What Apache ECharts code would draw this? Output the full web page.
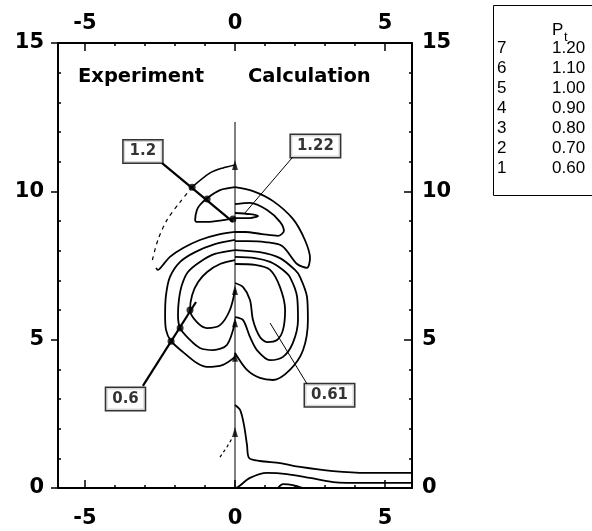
<!DOCTYPE html>
<html>
<head>
<meta charset="utf-8">
<script src="https://cdn.jsdelivr.net/npm/echarts@6/dist/echarts.min.js"></script>
<style>
  html, body { margin: 0; padding: 0; background: #fff; }
  #chart { width: 592px; height: 531px; }
</style>
</head>
<body>
<div id="chart"></div>
<script>
// axis ticks
const xMajor = [-5, 0, 5]
const xMinor = [-5, -4, -3, -2, -1, 0, 1, 2, 3, 4, 5]
const yMajor = [0, 5, 10, 15]
const yMinor = [1, 2, 3, 4, 6, 7, 8, 9, 11, 12, 13, 14]

// legend table
const levelIds = ['7', '6', '5', '4', '3', '2', '1']
const levelVals = ['1.20', '1.10', '1.00', '0.90', '0.80', '0.70', '0.60']

// calculation side (x > 0), [x, y]
const calcOuterLobe = [[0, 10.14], [0.6, 10.01], [1.27, 9.67], [1.93, 9.07], [2.33, 8.36], [2.5, 7.75], [2.4, 7.42], [2.07, 7.55], [1.57, 8.16], [1.0, 8.29], [0.43, 8.32], [0, 8.32]]
const calcInnerLobe = [[0, 9.57], [0.5, 9.61], [1.07, 9.37], [1.5, 8.97], [1.63, 8.66], [1.43, 8.5], [0.9, 8.56], [0.33, 8.63], [0, 8.63]]
const calcTongue = [[0, 9.27], [0.5, 9.23], [0.77, 9.17], [0.5, 9.1], [0, 9.1]]
const calcRingC = [[0, 8.02], [0.83, 7.95], [1.5, 7.75], [2.0, 7.35], [2.17, 7.11], [2.4, 6.44], [2.43, 5.66], [2.27, 4.65], [1.83, 3.98], [1.27, 3.64], [0.83, 3.71], [0.4, 3.98], [0, 4.55]]
const calcRingB = [[0, 7.79], [0.67, 7.75], [1.17, 7.62], [1.6, 7.35], [1.83, 7.11], [2.07, 6.44], [2.1, 5.66], [1.93, 4.89], [1.6, 4.42], [1.17, 4.31], [0.73, 4.65], [0.5, 5.09], [0.27, 5.66], [0, 5.76]]
const calcRingA = [[0, 7.55], [0.67, 7.52], [1.17, 7.35], [1.5, 6.77], [1.67, 6.0], [1.6, 5.33], [1.4, 4.99], [1.07, 4.92], [0.83, 5.09], [0.6, 5.66], [0.5, 6.34], [0.27, 6.77], [0, 6.91]]
const calcWallD = [[0, 2.8], [0.17, 2.63], [0.3, 2.12], [0.4, 1.45], [0.47, 1.01], [0.83, 0.91], [1.5, 0.84], [2.17, 0.71], [3.27, 0.57], [4.4, 0.51], [5.9, 0.51]]
const calcWallE = [[0, 0], [0.1, 0.03], [0.5, 0.34], [1.07, 0.51], [1.73, 0.47], [2.5, 0.34], [3.27, 0.2], [4.4, 0.17], [5.9, 0.17]]
const calcBump = [[1.43, 0], [1.6, 0.13], [1.93, 0.1], [2.27, 0]]

// experiment side (x < 0)
const expArcSolid = [[0, 10.89], [-0.4, 10.79], [-0.83, 10.62], [-1.43, 10.14]]
const expArcDashed = [[-1.43, 10.14], [-1.83, 9.64], [-2.27, 9.03], [-2.57, 8.36], [-2.77, 7.62]]
const expLoop = [[0, 10.14], [-0.5, 10.04], [-0.93, 9.77], [-1.17, 9.54], [-1.27, 9.37], [-1.33, 9.03], [-1.27, 8.97], [-0.93, 8.97], [-0.4, 9.03], [0, 9.1]]
const expHook = [[0, 8.63], [-0.6, 8.53], [-1.17, 8.36], [-1.73, 8.09], [-2.17, 7.79], [-2.4, 7.52], [-2.57, 7.35], [-2.63, 7.42]]
const expRing1 = [[0, 8.36], [-0.67, 8.22], [-1.33, 7.95], [-1.83, 7.62], [-2.17, 7.11], [-2.3, 6.5], [-2.33, 5.83], [-2.3, 5.33], [-2.13, 4.95], [-1.73, 4.58], [-1.27, 4.21], [-0.93, 4.08], [-0.4, 4.15], [0, 4.42]]
const expRing2 = [[0, 8.02], [-0.67, 7.89], [-1.17, 7.62], [-1.57, 7.28], [-1.77, 6.84], [-1.87, 6.34], [-1.9, 5.83], [-1.83, 5.39], [-1.5, 4.99], [-1.17, 4.72], [-0.73, 4.65], [-0.27, 4.82], [0, 5.59]]
const expRing3 = [[0, 7.68], [-0.5, 7.55], [-0.93, 7.28], [-1.23, 6.94], [-1.43, 6.5], [-1.5, 6.0], [-1.27, 5.59], [-0.93, 5.39], [-0.5, 5.49], [-0.17, 6.0], [0, 6.67]]
const expBase = [[-0.5, 1.04], [-0.27, 1.38], [-0.07, 1.72]]

const symmetryLine = [[0, 0], [0, 12.34]]
const centerMarks = [[0, 10.89], [0, 6.67], [0, 5.59], [0, 4.42], [0, 1.89]]

// annotation tags and their leaders
const tagNames = ['1.2', '1.22', '0.6', '0.61']
const tagPos = [[-3.07, 11.34], [2.68, 11.53], [-3.65, 3.0], [3.15, 3.13]]
const leader12 = [[-2.43, 10.95], [-0.07, 8.97]]
const leader122 = [[1.93, 11.16], [0.33, 9.27]]
const leader06 = [[-3.07, 3.44], [-1.3, 6.27]]
const leader061 = [[2.4, 3.51], [1.17, 5.56]]
const leaderDots = [[-1.43, 10.14], [-0.93, 9.74], [-0.07, 9.07], [-2.13, 4.95], [-1.83, 5.39], [-1.5, 6.0]]

const BOLD = 'DejaVu Sans'

const line = (data, width, type, smooth) => ({
  type: 'line',
  data: data,
  symbol: 'none',
  smooth: smooth === undefined ? 0.3 : smooth,
  lineStyle: { color: '#000', width: width, type: type || 'solid' },
  z: 3,
})

const xAxisBase = (pos, ticks, len, inside, labels, margin) => ({
  type: 'value',
  position: pos,
  min: -5.9,
  max: 5.9,
  axisLine: { show: labels, onZero: false, lineStyle: { color: '#000', width: 2 } },
  axisTick: { show: true, inside: inside, length: len, customValues: ticks, lineStyle: { color: '#000', width: 1.5 } },
  axisLabel: { show: labels, customValues: xMajor, margin: margin, color: '#000', fontFamily: BOLD, fontWeight: 'bold', fontSize: 21 },
  splitLine: { show: false },
})

const yAxisBase = (pos, ticks, len, inside, labels, margin) => ({
  type: 'value',
  position: pos,
  min: 0,
  max: 15,
  axisLine: { show: labels, onZero: false, lineStyle: { color: '#000', width: 2 } },
  axisTick: { show: true, inside: inside, length: len, customValues: ticks, lineStyle: { color: '#000', width: 1.5 } },
  axisLabel: { show: labels, customValues: yMajor, margin: margin, color: '#000', fontFamily: BOLD, fontWeight: 'bold', fontSize: 21 },
  splitLine: { show: false },
})

const legendItems = []
levelIds.forEach((id, i) => {
  legendItems.push({ type: 'text', left: 497, top: 40 + i * 20, style: { text: id, font: '17px "Liberation Sans"', fill: '#000' } })
  legendItems.push({ type: 'text', left: 552, top: 40 + i * 20, style: { text: levelVals[i], font: '17px "Liberation Sans"', fill: '#000' } })
})

const chart = echarts.init(document.getElementById('chart'))
const option = {
  animation: false,
  grid: { left: 58, right: 180, top: 43, bottom: 43 },
  xAxis: [
    xAxisBase('bottom', xMajor, 8, true, true, 20),
    xAxisBase('top', xMajor, 8, true, true, 9),
    xAxisBase('bottom', xMinor, 3, true, false, 0),
    xAxisBase('top', xMinor, 3, true, false, 0),
  ],
  yAxis: [
    yAxisBase('left', yMajor, 7, false, true, 14),
    yAxisBase('right', yMajor, 8, true, true, 10),
    yAxisBase('left', yMinor, 3, true, false, 0),
    yAxisBase('right', yMinor, 3, true, false, 0),
  ],
  graphic: [
    { type: 'text', left: 78, top: 67, style: { text: 'Experiment', font: 'bold 19.5px "DejaVu Sans"', fill: '#000' } },
    { type: 'text', left: 248, top: 67, style: { text: 'Calculation', font: 'bold 19.5px "DejaVu Sans"', fill: '#000' } },
    { type: 'rect', left: 493, top: 5, shape: { width: 120, height: 190 }, style: { fill: '#fff', stroke: '#000', lineWidth: 1 } },
    { type: 'text', left: 552, top: 22, style: { text: 'P', font: '17px "Liberation Sans"', fill: '#000' } },
    { type: 'text', left: 564, top: 31, style: { text: 't', font: '13px "Liberation Sans"', fill: '#000' } },
    ...legendItems,
  ],
  series: [
    line(symmetryLine, 1, 'solid', false),
    line(calcOuterLobe, 1.8),
    line(calcInnerLobe, 1.8),
    line(calcTongue, 1.8),
    line(calcRingC, 1.8),
    line(calcRingB, 1.8),
    line(calcRingA, 1.8),
    line(calcWallD, 1.8),
    line(calcWallE, 1.8),
    line(calcBump, 1.8),
    line(expArcSolid, 1.6),
    line(expArcDashed, 1.2, [4, 4]),
    line(expLoop, 1.8),
    line(expHook, 1.8),
    line(expRing1, 1.8),
    line(expRing2, 1.8),
    line(expRing3, 1.8),
    line(expBase, 1.2, [3, 3], false),
    line(leader12, 2.2, 'solid', false),
    line(leader122, 1, 'solid', false),
    line(leader06, 2.2, 'solid', false),
    line(leader061, 1, 'solid', false),
    {
      type: 'scatter',
      data: leaderDots,
      symbol: 'circle',
      symbolSize: 7,
      itemStyle: { color: '#000' },
      z: 4,
    },
    {
      type: 'scatter',
      data: centerMarks,
      symbol: 'triangle',
      symbolSize: [6, 10],
      itemStyle: { color: '#000' },
      z: 4,
    },
    {
      type: 'scatter',
      data: tagPos.map((p, i) => ({ value: p, name: tagNames[i] })),
      symbolSize: 0,
      z: 6,
      label: {
        show: true,
        position: 'inside',
        formatter: (p) => p.name,
        color: '#000',
        fontFamily: BOLD,
        fontWeight: 'bold',
        fontSize: 15,
        backgroundColor: '#fff',
        borderColor: '#000',
        borderWidth: 1.5,
        padding: [4, 6, 3, 6],
      },
    },
  ],
}
chart.setOption(option)
</script>
</body>
</html>
